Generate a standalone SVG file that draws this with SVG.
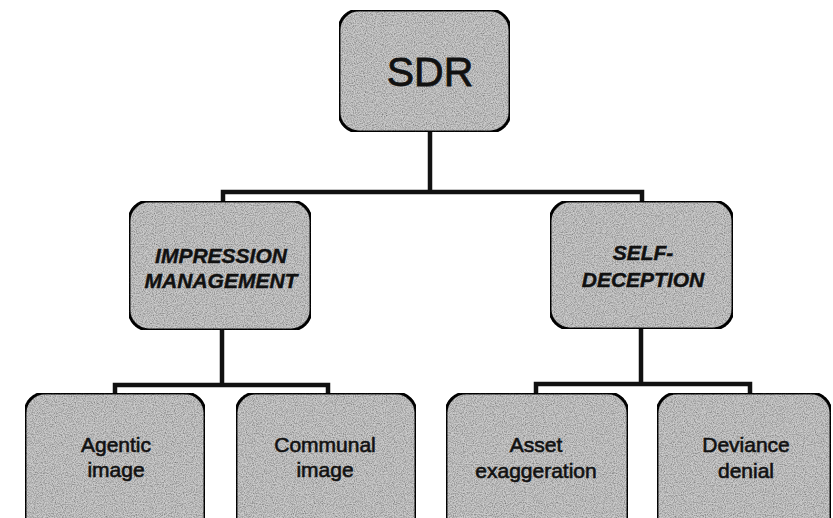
<svg xmlns="http://www.w3.org/2000/svg" width="833" height="518" viewBox="0 0 833 518">
  <defs>
    <!-- stippled grey fill for the boxes -->
    <filter id="grain" x="0" y="0" width="100%" height="100%">
      <feTurbulence type="fractalNoise" baseFrequency="0.9" numOctaves="2" seed="3" result="noise"/>
      <feColorMatrix in="noise" type="matrix" values="0 0 0 0 0  0 0 0 0 0  0 0 0 0 0  0 0 0 -1.2 0.8" result="dots"/>
      <feComposite in="dots" in2="SourceGraphic" operator="in" result="clipped"/>
      <feMerge>
        <feMergeNode in="SourceGraphic"/>
        <feMergeNode in="clipped"/>
      </feMerge>
    </filter>
  </defs>
  <style>
    .box { fill: #cbcbcb; stroke: #111; stroke-width: 3; }
    .link { fill: none; stroke: #111; stroke-width: 4.5; stroke-linejoin: miter; stroke-linecap: square; }
    .lbl { font-family: "Liberation Sans", Arial, sans-serif; fill: #111; stroke: #111; text-anchor: middle; }
    .top { font-size: 41px; stroke-width: 0.8; }
    .mid { font-size: 21px; font-weight: bold; font-style: italic; stroke-width: 0.4; }
    .leaf { font-size: 21px; stroke-width: 0.6; }
  </style>
  <rect width="833" height="518" fill="#ffffff"/>

  <g id="connectors">
    <path class="link" d="M430 132 V192 M223 192 H642 M223 192 V201 M642 192 V201"/>
    <path class="link" d="M222 330 V385 M115 385 H328 M115 385 V393 M328 385 V393"/>
    <path class="link" d="M641 329 V384 M536 384 H750 M536 384 V393 M750 384 V393"/>
  </g>

  <g id="node-sdr">
    <rect class="box" x="339" y="10" width="171" height="122" rx="20" filter="url(#grain)"/>
    <text class="lbl top" x="430" y="86">SDR</text>
  </g>

  <g id="node-impression">
    <rect class="box" x="129" y="201" width="182" height="129" rx="20" filter="url(#grain)"/>
    <text class="lbl mid" x="221" y="263">IMPRESSION</text>
    <text class="lbl mid" x="221" y="288">MANAGEMENT</text>
  </g>

  <g id="node-self-deception">
    <rect class="box" x="550" y="201" width="183" height="128" rx="20" filter="url(#grain)"/>
    <text class="lbl mid" x="643" y="260">SELF-</text>
    <text class="lbl mid" x="643" y="287">DECEPTION</text>
  </g>

  <g id="node-agentic">
    <rect class="box" x="25" y="393" width="180" height="150" rx="20" filter="url(#grain)"/>
    <text class="lbl leaf" x="116" y="452">Agentic</text>
    <text class="lbl leaf" x="116" y="477">image</text>
  </g>

  <g id="node-communal">
    <rect class="box" x="236" y="393" width="180" height="150" rx="20" filter="url(#grain)"/>
    <text class="lbl leaf" x="325" y="452">Communal</text>
    <text class="lbl leaf" x="325" y="477">image</text>
  </g>

  <g id="node-asset">
    <rect class="box" x="446" y="393" width="182" height="150" rx="20" filter="url(#grain)"/>
    <text class="lbl leaf" x="536" y="452">Asset</text>
    <text class="lbl leaf" x="536" y="478">exaggeration</text>
  </g>

  <g id="node-deviance">
    <rect class="box" x="657" y="393" width="174" height="150" rx="20" filter="url(#grain)"/>
    <text class="lbl leaf" x="746" y="452">Deviance</text>
    <text class="lbl leaf" x="746" y="478">denial</text>
  </g>
</svg>
